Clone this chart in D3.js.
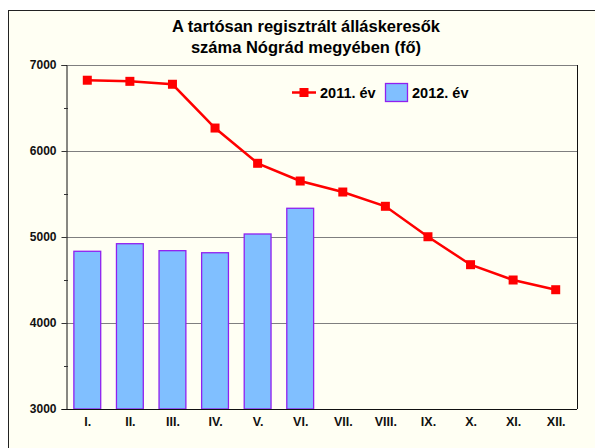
<!DOCTYPE html>
<html>
<head>
<meta charset="utf-8">
<script src="https://cdnjs.cloudflare.com/ajax/libs/d3/7.8.5/d3.min.js"></script>
<style>
  body { margin: 0; background: #fff; }
  svg { display: block; font-family: 'Liberation Sans', Arial, sans-serif; font-weight: bold; }
</style>
</head>
<body>
<svg></svg>
<script>
let width = 595;
let height = 448;

let months = ['I.', 'II.', 'III.', 'IV.', 'V.', 'VI.', 'VII.', 'VIII.', 'IX.', 'X.', 'XI.', 'XII.'];
let values2011 = [6823, 6810, 6776, 6267, 5857, 5651, 5523, 5357, 5003, 4678, 4500, 4387];
let values2012 = [4834, 4922, 4841, 4817, 5035, 5334];
let yTicks = [3000, 4000, 5000, 6000, 7000];
let yMinor = [3500, 4500, 5500, 6500];

let font = "'Liberation Sans', Arial, sans-serif";

let svg = d3.select('svg')
    .attr('width', width)
    .attr('height', height)

// frame
svg.append('rect')
    .attr('x', 8.5)
    .attr('y', 10.5)
    .attr('width', 600)
    .attr('height', 450)
    .attr('fill', '#fffff3')
    .attr('stroke', '#222')
    .attr('stroke-width', 1)

svg.append('text')
    .attr('x', 306)
    .attr('y', 32)
    .attr('text-anchor', 'middle')
    .attr('font-size', 16.5)
    .text('A tartósan regisztrált álláskeresők')
svg.append('text')
    .attr('x', 306)
    .attr('y', 53)
    .attr('text-anchor', 'middle')
    .attr('font-size', 16.5)
    .text('száma Nógrád megyében (fő)')

let plotLeft = 66, plotRight = 577, plotTop = 65, plotBottom = 409;

let x = d3.scaleBand()
    .domain(months)
    .range([plotLeft, plotRight])
    .paddingInner(0.37)
    .paddingOuter(0.185)

let xc = d3.scalePoint()
    .domain(months)
    .range([plotLeft, plotRight])
    .padding(0.5)

let y = d3.scaleLinear()
    .domain([3000, 7000])
    .range([plotBottom, plotTop])

// gridlines
svg.append('g')
    .selectAll('line')
    .data(yTicks.slice(1))
    .enter()
    .append('line')
    .attr('x1', plotLeft)
    .attr('x2', plotRight)
    .attr('y1', d => y(d) + 0.5)
    .attr('y2', d => y(d) + 0.5)
    .attr('stroke', '#7f7f7f')
    .attr('stroke-width', 1.2)

// right border
svg.append('line')
    .attr('x1', plotRight + 0.5).attr('x2', plotRight + 0.5)
    .attr('y1', plotTop).attr('y2', plotBottom)
    .attr('stroke', '#111')

// bars
svg.append('g')
    .selectAll('rect')
    .data(values2012)
    .enter()
    .append('rect')
    .attr('x', (d, i) => x(months[i]))
    .attr('y', d => y(d))
    .attr('width', x.bandwidth())
    .attr('height', d => y(3000) - y(d))
    .attr('fill', '#80bfff')
    .attr('stroke', '#9020f0')
    .attr('stroke-width', 1.3)

// y axis
let yAxis = d3.axisLeft(y)
    .tickValues(yTicks)
    .tickSize(5)
    .tickPadding(5)
    .tickFormat(d3.format('d'))
let gy = svg.append('g')
    .attr('transform', 'translate(' + (plotLeft + 0.5) + ',0)')
    .call(yAxis)
gy.select('.domain').attr('stroke', '#111')
gy.selectAll('text').attr('font-size', 12).attr('font-weight', 'bold').attr('font-family', font).attr('fill', '#111')
gy.selectAll('line').attr('stroke', '#333')

svg.append('g')
    .selectAll('line')
    .data(yMinor)
    .enter()
    .append('line')
    .attr('x1', plotLeft - 2)
    .attr('x2', plotLeft + 2)
    .attr('y1', d => y(d) + 0.5)
    .attr('y2', d => y(d) + 0.5)
    .attr('stroke', '#333')

// x axis
let xAxis = d3.axisBottom(xc)
    .tickSize(0)
    .tickPadding(8)
let gx = svg.append('g')
    .attr('transform', 'translate(0,' + (plotBottom + 0.5) + ')')
    .call(xAxis)
gx.select('.domain').attr('stroke', '#111').attr('d', 'M' + (plotLeft - 4) + ',0H' + plotRight)
gx.selectAll('text').attr('font-size', 12.5).attr('font-weight', 'bold').attr('font-family', font).attr('fill', '#111')

// line 2011
let line = d3.line()
    .x((d, i) => xc(months[i]))
    .y(d => y(d))

svg.append('path')
    .datum(values2011)
    .attr('d', line)
    .attr('fill', 'none')
    .attr('stroke', '#ff0000')
    .attr('stroke-width', 2.5)

svg.append('g')
    .selectAll('rect')
    .data(values2011)
    .enter()
    .append('rect')
    .attr('x', (d, i) => xc(months[i]) - 4.5)
    .attr('y', d => y(d) - 4.5)
    .attr('width', 9)
    .attr('height', 9)
    .attr('fill', '#ff0000')

// legend
let lg = svg.append('g')
lg.append('line')
    .attr('x1', 292).attr('x2', 316)
    .attr('y1', 92.5).attr('y2', 92.5)
    .attr('stroke', '#ff0000')
    .attr('stroke-width', 2.5)
lg.append('rect')
    .attr('x', 299.5).attr('y', 88)
    .attr('width', 9).attr('height', 9)
    .attr('fill', '#ff0000')
lg.append('text')
    .attr('x', 320)
    .attr('y', 98)
    .attr('font-size', 14.5)
    .text('2011. év')
lg.append('rect')
    .attr('x', 385.5).attr('y', 83.5)
    .attr('width', 22).attr('height', 18)
    .attr('fill', '#80bfff')
    .attr('stroke', '#9020f0')
    .attr('stroke-width', 1.3)
lg.append('text')
    .attr('x', 412)
    .attr('y', 98)
    .attr('font-size', 14.5)
    .text('2012. év')
</script>
</body>
</html>
